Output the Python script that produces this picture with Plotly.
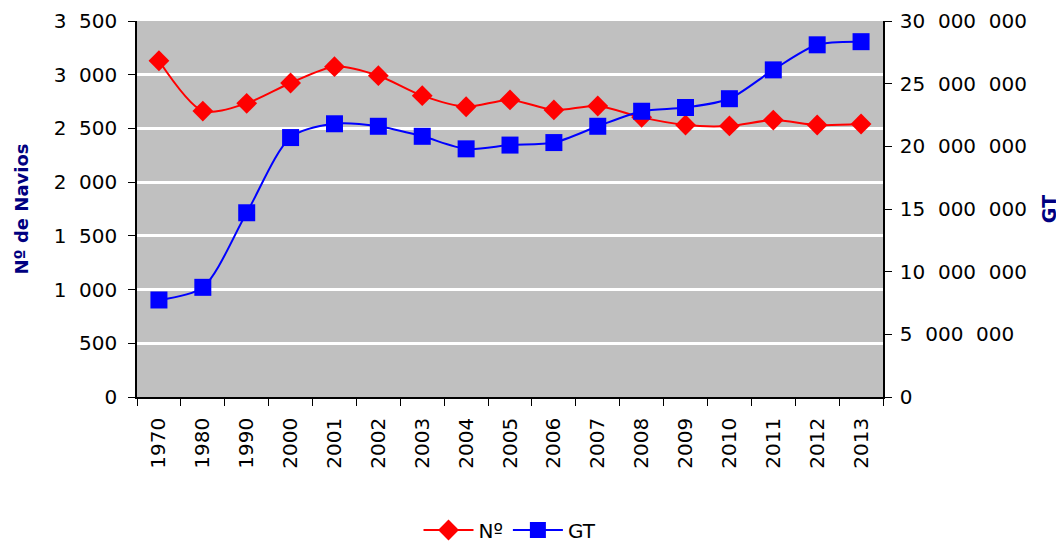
import plotly.graph_objects as go

years = ["1970", "1980", "1990", "2000", "2001", "2002", "2003", "2004", "2005",
         "2006", "2007", "2008", "2009", "2010", "2011", "2012", "2013"]
navios = [3130, 2662, 2734, 2923, 3075, 2991, 2805, 2702, 2765, 2672, 2709,
          2603, 2532, 2523, 2578, 2532, 2541]
gt = [7740000, 8750000, 14700000, 20700000, 21800000, 21600000, 20800000,
      19800000, 20100000, 20300000, 21600000, 22800000, 23100000, 23800000,
      26100000, 28100000, 28350000]

font = "DejaVu Sans, Verdana, sans-serif"
FS = 20
W, H = 1056, 534  # page body has an 8px margin

fig = go.Figure()
fig.add_trace(go.Scatter(
    x=years, y=navios, name="Nº", mode="lines+markers",
    line=dict(color="#FF0000", width=2, shape="spline", smoothing=0.8),
    marker=dict(symbol="diamond", size=16, color="#FF0000"),
    yaxis="y"))
fig.add_trace(go.Scatter(
    x=years, y=gt, name="GT", mode="lines+markers",
    line=dict(color="#0000FF", width=2, shape="spline", smoothing=0.8),
    marker=dict(symbol="square", size=17, color="#0000FF"),
    yaxis="y2"))

fig.update_layout(
    width=W, height=H,
    margin=dict(l=129, r=181, t=13, b=145, autoexpand=False),
    paper_bgcolor="white", plot_bgcolor="#C0C0C0",
    separators=".\u2007",
    font=dict(family=font, size=FS, color="black"),
    showlegend=True,
    legend=dict(orientation="h", x=0.5, xanchor="center", yref="container",
                y=12 / H, yanchor="middle",
                font=dict(family=font, size=FS, color="black"), itemwidth=50,
                bgcolor="rgba(0,0,0,0)"),
    xaxis=dict(type="category", range=[-0.5, 16.5], tickangle=-90, showline=True,
               linecolor="black", linewidth=1.5, ticks="outside", tickson="boundaries",
               ticklen=7, tickcolor="black", showgrid=False, zeroline=False,
               automargin=False, ticklabelstandoff=11, tickfont=dict(family=font, size=FS)),
    yaxis=dict(range=[0, 3500], dtick=500, tick0=0, tickformat=",d",
               showline=True, linecolor="black", linewidth=1.5,
               ticks="outside", ticklen=7, tickcolor="black",
               showgrid=True, gridcolor="white", gridwidth=3, zeroline=False,
               automargin=False, ticklabelstandoff=7,
               title=dict(text="<b>Nº de Navios</b>", font=dict(family=font, size=18, color="#000080"),
                          standoff=20),
               tickfont=dict(family=font, size=FS)),
    yaxis2=dict(range=[0, 30000000], dtick=5000000, tick0=0, tickformat=",d",
                overlaying="y", side="right",
                showline=True, linecolor="black", linewidth=1.5,
                ticks="outside", ticklen=7, tickcolor="black",
                showgrid=False, zeroline=False, automargin=False, ticklabelstandoff=4,
                title=dict(text="<b>GT</b>", font=dict(family=font, size=19, color="#000080"),
                           standoff=17),
                tickfont=dict(family=font, size=FS)),
)

fig.write_html("out.html")
